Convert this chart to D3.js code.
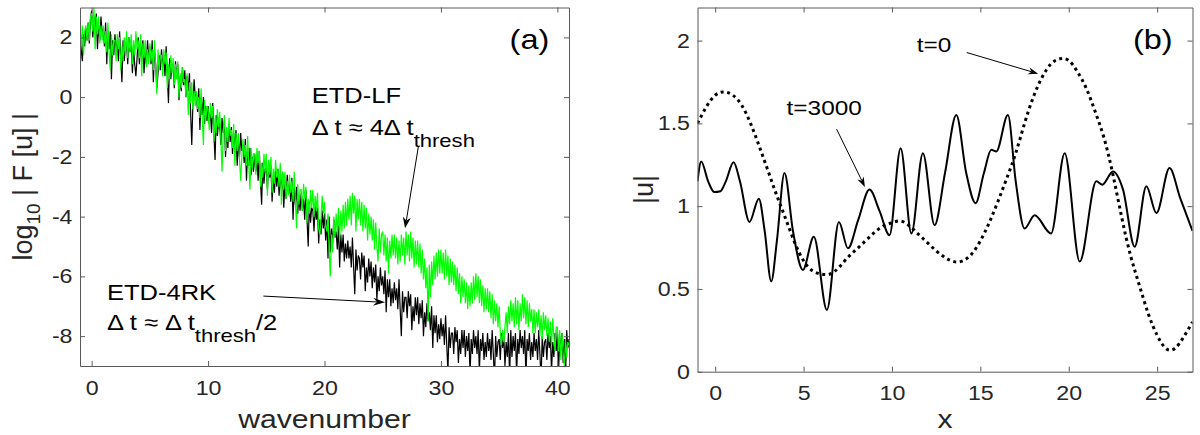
<!DOCTYPE html>
<html><head><meta charset="utf-8">
<script src="https://cdn.jsdelivr.net/npm/d3@7"></script>
<style>
body{margin:0;background:#fff;}
svg{display:block;}
</style></head><body>
<svg id="chart" width="1200" height="435"></svg>
<script>
// ---------- Panel (a): log10 |F[u]| spectra, sampled every 0.1 in wavenumber from -1 ----------
const waveStart = -1, waveStep = 0.1;
const etd4rk = [
 2.2, 1.6, 1.2, 2.1, 1.7, 2.3, 1.9, 2.5, 1.8, 2.6,
 2.9, 2.0, 2.7, 2.2, 2.8, 1.6, 2.4, 1.9, 2.7, 2.1,
 2.3, 1.7, 2.5, 1.1, 2.2, 1.6, 2.2, 0.6, 1.9, 1.4,
 2.1, 1.5, 1.9, 1.2, 2.2, 1.3, 0.5, 1.9, 1.2, 1.7,
 1.8, 1.1, 2.0, 1.5, 1.9, 0.8, 1.6, 1.1, 0.7, 1.3,
 2.0, 1.1, 1.8, 1.3, 1.9, 0.8, 1.6, 1.1, 1.9, 1.3,
 1.7, 1.1, 1.9, 0.5, 1.6, 1.1, 0.3, 0.8, 1.4, 0.9,
 1.6, 1.0, 1.4, 0.7, 1.7, 0.7, -0.2, 1.3, 0.6, 1.1,
 1.0, 0.3, 1.2, 0.7, 1.1, -0.1, 0.7, 0.2, 1.0, 0.4,
 0.9, 0.0, 0.7, 0.2, 0.8, -0.5, -1.6, -0.2, 0.6, 0.0,
 0.1, -0.5, 0.3, -1.1, 0.0, -0.6, 0.0, -0.9, -0.3, -0.8,
 -0.3, -0.9, -0.5, -1.2, -0.2, -1.2, -2.1, -0.6, -1.3, -0.8,
 -0.9, -1.6, -0.7, -1.2, -0.8, -2.0, -1.2, -1.7, -0.9, -1.5,
 -1.0, -1.9, -1.2, -1.7, -1.1, -2.3, -1.5, -2.0, -1.2, -1.8,
 -1.6, -2.2, -1.4, -2.8, -1.7, -2.3, -1.7, -2.6, -2.0, -2.5,
 -1.9, -2.5, -2.1, -2.8, -1.8, -2.8, -3.6, -2.2, -2.9, -2.4,
 -2.4, -3.1, -2.2, -2.7, -2.3, -3.5, -2.7, -3.2, -2.4, -3.0,
 -2.4, -3.3, -2.6, -3.1, -2.5, -3.7, -2.9, -3.4, -2.6, -3.2,
 -2.9, -3.5, -2.7, -4.1, -3.0, -3.6, -3.0, -3.9, -3.3, -3.8,
 -3.2, -3.8, -3.4, -4.1, -3.1, -4.1, -5.0, -3.5, -4.2, -3.7,
 -3.8, -4.5, -3.6, -4.1, -3.7, -4.9, -4.1, -4.6, -3.8, -4.4,
 -3.9, -4.8, -4.1, -5.4, -4.0, -5.2, -4.4, -4.9, -4.1, -4.7,
 -4.5, -5.1, -4.3, -5.7, -4.6, -5.2, -4.6, -5.5, -4.9, -5.4,
 -4.8, -5.4, -5.0, -5.7, -4.7, -5.7, -6.6, -5.1, -5.8, -5.3,
 -5.4, -6.1, -5.2, -5.7, -5.3, -6.5, -5.7, -6.2, -5.4, -6.0,
 -5.5, -6.4, -5.7, -6.2, -5.6, -6.8, -6.0, -6.5, -5.7, -6.3,
 -6.0, -6.6, -5.8, -7.2, -6.1, -6.7, -6.1, -7.0, -6.4, -6.9,
 -6.2, -6.8, -6.4, -7.1, -6.1, -7.1, -8.0, -6.5, -7.2, -6.7,
 -6.7, -7.4, -6.5, -7.0, -6.6, -7.8, -7.0, -7.5, -6.7, -7.3,
 -6.7, -7.6, -6.9, -7.4, -6.8, -8.0, -7.2, -7.7, -6.9, -7.5,
 -7.2, -7.8, -7.0, -8.4, -7.3, -7.9, -7.3, -8.2, -7.6, -8.1,
 -7.4, -8.0, -7.6, -8.3, -7.3, -8.3, -9.2, -7.7, -8.4, -7.9,
 -7.9, -8.6, -7.7, -8.2, -7.8, -8.9, -8.1, -8.6, -7.8, -8.4,
 -7.8, -8.7, -8.0, -8.5, -7.9, -9.3, -8.1, -8.6, -7.8, -8.4,
 -8.0, -8.6, -7.8, -9.2, -8.1, -8.5, -7.9, -8.8, -8.2, -8.7,
 -7.9, -8.5, -8.1, -8.8, -7.8, -8.6, -9.5, -8.0, -8.7, -8.2,
 -8.1, -8.8, -7.9, -8.4, -8.0, -9.0, -8.2, -8.7, -7.9, -9.4,
 -7.8, -8.7, -8.0, -8.5, -7.9, -9.3, -8.1, -8.6, -7.8, -8.4,
 -8.0, -8.6, -7.8, -9.4, -8.1, -8.5, -7.9, -8.8, -8.2, -8.7,
 -7.9, -8.5, -8.1, -8.8, -7.8, -8.6, -9.5, -8.0, -8.7, -8.2,
 -8.1, -8.8, -7.9, -8.4, -8.0, -9.2, -8.2, -8.7, -7.9, -8.5,
 -7.8, -9.3, -8.0, -8.5, -7.9, -8.9, -8.1, -9.4, -7.8, -8.4,
 -8.1
];
const etdlf = [
 2.3, 1.7, 2.4, 1.4, 2.2, 2.4, 1.9, 2.5, 1.9, 2.7,
 2.8, 2.2, 3.0, 1.6, 2.7, 2.1, 2.7, 1.8, 2.4, 1.9,
 2.4, 1.8, 2.2, 1.5, 2.5, 1.5, 0.9, 2.1, 1.4, 1.9,
 1.9, 1.2, 2.1, 1.6, 2.0, 0.9, 1.7, 1.2, 2.0, 1.4,
 2.2, 1.3, 2.0, 1.5, 2.1, 1.1, 1.9, 1.4, 2.2, 1.6,
 1.9, 1.3, 2.1, 0.7, 1.8, 1.3, 1.9, 1.0, 1.6, 1.1,
 1.8, 1.2, 1.6, 0.9, 1.9, 1.0, 0.1, 1.6, 0.9, 1.4,
 1.4, 0.7, 1.6, 1.1, 1.5, 0.3, 1.1, 0.6, 1.4, 0.8,
 1.3, 0.4, 1.1, 0.6, 1.2, 0.0, 0.8, 0.3, 1.0, 0.5,
 0.6, 0.0, 0.8, -0.6, 0.5, -0.2, 0.5, -0.4, 0.2, -0.3,
 0.2, -0.4, 0.0, -0.7, 0.3, -0.7, -1.6, -0.1, -0.8, -0.3,
 -0.4, -1.1, -0.2, -0.7, -0.3, -1.5, -0.7, -1.2, -0.4, -1.0,
 -0.5, -1.4, -2.5, -1.2, -0.6, -1.8, -1.0, -1.5, -0.7, -1.3,
 -1.1, -1.7, -0.9, -2.3, -1.2, -1.8, -1.2, -2.1, -2.8, -2.0,
 -1.4, -2.0, -1.6, -2.3, -1.3, -2.3, -3.1, -1.7, -2.4, -1.9,
 -1.9, -2.6, -1.7, -2.2, -1.8, -3.0, -2.2, -2.7, -1.9, -2.5,
 -1.9, -3.3, -2.1, -2.6, -2.0, -3.2, -2.4, -2.9, -2.1, -2.7,
 -2.4, -3.0, -2.2, -3.6, -2.5, -3.1, -2.5, -3.4, -2.8, -3.3,
 -2.6, -3.2, -2.8, -3.5, -2.5, -3.5, -4.4, -2.9, -3.6, -3.1,
 -3.1, -3.8, -2.9, -3.4, -3.0, -4.2, -3.4, -3.9, -3.1, -3.7,
 -3.1, -4.0, -3.3, -3.8, -3.2, -4.4, -4.6, -4.1, -3.3, -3.9,
 -3.5, -4.3, -4.5, -3.9, -5.1, -6.0, -4.6, -5.2, -4.0, -4.7,
 -3.9, -4.6, -3.7, -4.8, -3.8, -4.5, -3.6, -4.4, -3.5, -4.3,
 -3.4, -4.1, -3.3, -4.3, -3.2, -3.9, -3.3, -4.5, -3.4, -4.1,
 -3.4, -4.3, -3.5, -4.5, -3.6, -4.4, -3.7, -4.8, -3.9, -4.6,
 -4.0, -4.8, -4.1, -5.1, -4.2, -5.0, -5.5, -4.4, -5.2, -4.6,
 -4.5, -5.3, -4.6, -5.5, -4.7, -5.9, -4.8, -5.4, -4.6, -5.3,
 -4.6, -5.4, -4.7, -5.6, -4.8, -5.5, -4.6, -5.3, -4.7, -5.6,
 -4.5, -5.3, -4.6, -5.5, -4.5, -5.4, -4.7, -5.7, -4.8, -5.6,
 -4.8, -5.7, -4.9, -5.9, -5.1, -6.1, -5.4, -6.4, -5.7, -7.5,
 -5.6, -6.7, -5.5, -6.3, -5.3, -6.1, -5.2, -6.0, -5.1, -5.9,
 -5.1, -5.9, -5.2, -6.1, -5.1, -6.0, -5.3, -6.3, -5.4, -6.2,
 -5.5, -6.3, -5.6, -6.5, -5.7, -6.6, -5.9, -6.9, -6.0, -6.7,
 -6.1, -6.9, -6.2, -7.1, -6.3, -7.0, -6.2, -6.9, -6.0, -6.8,
 -5.9, -6.7, -6.0, -6.9, -6.1, -7.0, -6.3, -7.2, -6.4, -7.1,
 -6.4, -7.2, -6.5, -7.4, -6.6, -7.6, -6.8, -7.5, -6.9, -7.7,
 -7.0, -7.9, -8.3, -7.8, -8.2, -7.7, -7.2, -7.9, -7.0, -7.6,
 -6.8, -7.5, -6.9, -7.7, -6.7, -7.6, -6.8, -7.8, -6.9, -7.5,
 -6.6, -7.4, -6.7, -7.6, -6.8, -7.7, -6.9, -7.5, -7.1, -7.9,
 -7.1, -7.9, -7.2, -7.7, -7.1, -8.0, -7.3, -8.1, -7.2, -7.8,
 -7.3, -8.0, -7.4, -8.2, -7.5, -8.3, -7.4, -8.0, -8.5, -7.7,
 -7.7, -8.5, -7.8, -8.8, -7.9, -8.6, -9.0, -8.1, -8.7, -8.2,
 -8.3
];
const xTicksA = [0, 10, 20, 30, 40];
const yTicksA = [-8, -6, -4, -2, 0, 2];

// ---------- Panel (b): |u| profiles ----------
const t0X = [-1,-0.5,0,0.5,1,1.5,2,2.5,3,3.5,4,4.5,5,5.5,6,6.5,7,7.5,8,8.5,9,9.5,10,10.5,11,11.5,12,12.5,13,13.5,14,14.5,15,15.5,16,16.5,17,17.5,18,18.5,19,19.5,20,20.5,21,21.5,22,22.5,23,23.5,24,24.5,25,25.5,26,26.5,27];
const t0U = [1.50,1.60,1.67,1.69,1.67,1.61,1.50,1.36,1.21,1.06,0.92,0.78,0.67,0.61,0.59,0.59,0.63,0.69,0.74,0.79,0.84,0.88,0.90,0.91,0.88,0.83,0.78,0.73,0.69,0.665,0.67,0.71,0.79,0.90,1.03,1.17,1.32,1.50,1.66,1.78,1.86,1.89,1.88,1.81,1.71,1.57,1.41,1.19,0.93,0.70,0.52,0.35,0.22,0.14,0.14,0.21,0.30];
const t3000X = [-1.0,-0.79,-0.4,-0.05,0.3,0.6,1.04,1.4,1.94,2.47,2.8,3.17,3.5,3.92,4.4,4.96,5.58,6.32,7.0,7.51,8.1,8.73,9.3,9.86,10.49,11.1,11.75,12.41,13.0,13.64,14.2,14.73,15.2,15.62,15.9,16.56,17.0,17.5,18.07,19.0,19.77,20.62,21.56,21.9,22.5,23.07,23.73,24.39,24.96,25.7,26.3,27.0];
const t3000U = [1.15,1.27,1.15,1.085,1.09,1.15,1.265,1.15,0.905,1.045,0.85,0.545,0.8,1.2,0.85,0.615,0.815,0.373,0.905,0.745,0.92,1.1,0.97,0.825,1.35,0.835,1.32,0.885,1.2,1.55,1.2,1.018,1.2,1.34,1.33,1.55,1.15,0.865,0.945,0.835,1.32,0.665,1.15,1.13,1.21,1.1,0.755,1.12,0.958,1.23,1.05,0.85];
const xTicksB = [0, 5, 10, 15, 20, 25];
const yTicksB = [0, 0.5, 1, 1.5, 2];

// ---------- drawing ----------
const SX = 1.16;                 // horizontal stretch of the original figure's text
const FONT = '"Liberation Sans", Arial, Helvetica, sans-serif';
const AXC = '#5a5a5a', TXC = '#262626';
const svg = d3.select('#chart').attr('font-family', FONT);

function txt(g, x, y, parts, size, opts = {}) {
  const sx = opts.sx || SX;
  const t = g.append('text')
    .attr('transform', opts.rotate ? `translate(${x},${y}) rotate(-90) scale(1,${sx})`
                                   : `translate(${x},${y}) scale(${sx},1)`)
    .attr('font-size', size).attr('text-anchor', opts.anchor || 'start')
    .attr('fill', opts.fill || '#000').style('white-space', 'pre');
  let cur = 0;
  parts.forEach(p => {
    const [s, kind] = Array.isArray(p) ? p : [p, null];
    const off = kind === 'sub' ? (opts.subDy || size * 0.5) : 0;
    t.append('tspan').attr('dy', off - cur)
      .attr('font-size', kind === 'sub' ? (opts.subSize || size * 0.85) : size).text(s);
    cur = off;
  });
  return t;
}

function arrow(g, x1, y1, x2, y2, L = 11, W = 4, N = 3) {
  const a = Math.atan2(y2 - y1, x2 - x1), c = Math.cos(a), s = Math.sin(a);
  const bx = x2 - L * c, by = y2 - L * s;
  g.append('line').attr('x1', x1).attr('y1', y1).attr('x2', x2 - (L - N) * c).attr('y2', y2 - (L - N) * s)
    .attr('stroke', '#000').attr('stroke-width', 1);
  const pts = [[x2, y2], [bx - W * s, by + W * c], [x2 - (L - N) * c, y2 - (L - N) * s], [bx + W * s, by - W * c]];
  g.append('path').attr('d', 'M' + pts.map(p => p.join(',')).join('L') + 'Z').attr('fill', '#000');
}

const fmt = d => String(d);

function axes(g, x, y, xt, yt) {
  const [xl, xr] = x.range(), [yb, yt0] = y.range();
  const style = sel => {
    sel.attr('font-family', FONT).attr('font-size', 20);
    sel.selectAll('.domain').attr('stroke', AXC).attr('stroke-width', 1);
    sel.selectAll('.tick line').attr('stroke', AXC).attr('stroke-width', 1);
    sel.selectAll('.tick text').attr('fill', TXC);
  };
  const b = g.append('g').attr('transform', `translate(0,${yb})`)
    .call(d3.axisBottom(x).tickValues(xt).tickSize(-5).tickSizeOuter(0).tickPadding(14.5).tickFormat(fmt));
  style(b); b.selectAll('.tick text').attr('transform', `scale(${SX},1)`);
  const t = g.append('g').attr('transform', `translate(0,${yt0})`)
    .call(d3.axisTop(x).tickValues(xt).tickSize(-5).tickSizeOuter(0).tickFormat(''));
  style(t);
  const l = g.append('g').attr('transform', `translate(${xl},0)`)
    .call(d3.axisLeft(y).tickValues(yt).tickSize(-5).tickSizeOuter(0).tickPadding(7.5).tickFormat(fmt));
  style(l); l.selectAll('.tick text').attr('transform', `scale(${SX},1)`).attr('x', -7.5 / SX);
  const r = g.append('g').attr('transform', `translate(${xr},0)`)
    .call(d3.axisRight(y).tickValues(yt).tickSize(-5).tickSizeOuter(0).tickFormat(''));
  style(r);
}

// Panel (a)
const xA = d3.scaleLinear().domain([-1, 41]).range([80, 569]);
const yA = d3.scaleLinear().domain([-9, 3]).range([366, 7.5]);
const gA = svg.append('g');
svg.append('clipPath').attr('id', 'clipA').append('rect')
  .attr('x', xA(-1)).attr('y', yA(3)).attr('width', xA(41) - xA(-1)).attr('height', yA(-9) - yA(3));
const lineA = d3.line().x((d, i) => xA(waveStart + i * waveStep)).y(d => yA(d));
gA.append('path').attr('d', lineA(etd4rk)).attr('fill', 'none').attr('stroke', '#000')
  .attr('stroke-width', 1.2).attr('clip-path', 'url(#clipA)');
gA.append('path').attr('d', lineA(etdlf)).attr('fill', 'none').attr('stroke', '#00ff00')
  .attr('stroke-width', 1.2).attr('clip-path', 'url(#clipA)');
axes(gA, xA, yA, xTicksA, yTicksA);

txt(gA, xA(35.9), yA(1.61), ['(a)'], 28);
txt(gA, xA(18.9), yA(-0.2), ['ETD-LF'], 22);
txt(gA, xA(18.9), yA(-1.27), ['Δ t ≈ 4Δ t', ['thresh', 'sub']], 22, { subDy: 12, subSize: 19 });
arrow(gA, xA(28.06), yA(-1.66), xA(26.92), yA(-4.39));
txt(gA, xA(1.32), yA(-6.79), ['ETD-4RK'], 22);
txt(gA, xA(1.32), yA(-7.8), ['Δ t ≈ Δ t', ['thresh', 'sub'], '/2'], 22, { subDy: 12, subSize: 19 });
arrow(gA, xA(14.75), yA(-6.66), xA(25.2), yA(-6.87), 12, 4, 4);
txt(gA, (xA(-1) + xA(41)) / 2, 428, ['wavenumber'], 26, { anchor: 'middle', fill: TXC });
txt(gA, 32, (yA(-9) + yA(3)) / 2, ['log', ['10', 'sub'], ' | F [u] |'], 27,
  { rotate: true, sx: 1, anchor: 'middle', fill: TXC, subDy: 8, subSize: 19 });

// Panel (b)
const xB = d3.scaleLinear().domain([-1, 27]).range([697.5, 1192.5]);
const yB = d3.scaleLinear().domain([0, 2.2]).range([371.7, 7.5]);
const gB = svg.append('g');
svg.append('clipPath').attr('id', 'clipB').append('rect')
  .attr('x', xB(-1)).attr('y', yB(2.2)).attr('width', xB(27) - xB(-1)).attr('height', yB(0) - yB(2.2));
const lineB = d3.line().x(d => xB(d[0])).y(d => yB(d[1]));
gB.append('path').attr('d', lineB.curve(d3.curveMonotoneX)(t3000X.map((x, i) => [x, t3000U[i]])))
  .attr('fill', 'none').attr('stroke', '#000').attr('stroke-width', 2).attr('clip-path', 'url(#clipB)');
gB.append('path').attr('d', lineB.curve(d3.curveNatural)(t0X.map((x, i) => [x, t0U[i]])))
  .attr('fill', 'none').attr('stroke', '#000').attr('stroke-width', 3)
  .attr('stroke-dasharray', '3,3.6').attr('clip-path', 'url(#clipB)');
axes(gB, xB, yB, xTicksB, yTicksB);

txt(gB, xB(23.63), yB(1.95), ['(b)'], 28);
txt(gB, xB(4.04), yB(1.551), ['t=3000'], 21);
arrow(gB, xB(6.87), yB(1.465), xB(8.47), yB(1.116), 10, 3.5, 3);
txt(gB, xB(11.4), yB(1.934), ['t=0'], 21);
arrow(gB, xB(14.23), yB(1.928), xB(18.27), yB(1.80), 10, 3.5, 3);
txt(gB, (xB(-1) + xB(27)) / 2, 428, ['x'], 26, { anchor: 'middle', fill: TXC });
txt(gB, 653, (yB(0) + yB(2.2)) / 2, ['|u|'], 27, { rotate: true, sx: 1, anchor: 'middle', fill: TXC });
</script>
</body></html>
